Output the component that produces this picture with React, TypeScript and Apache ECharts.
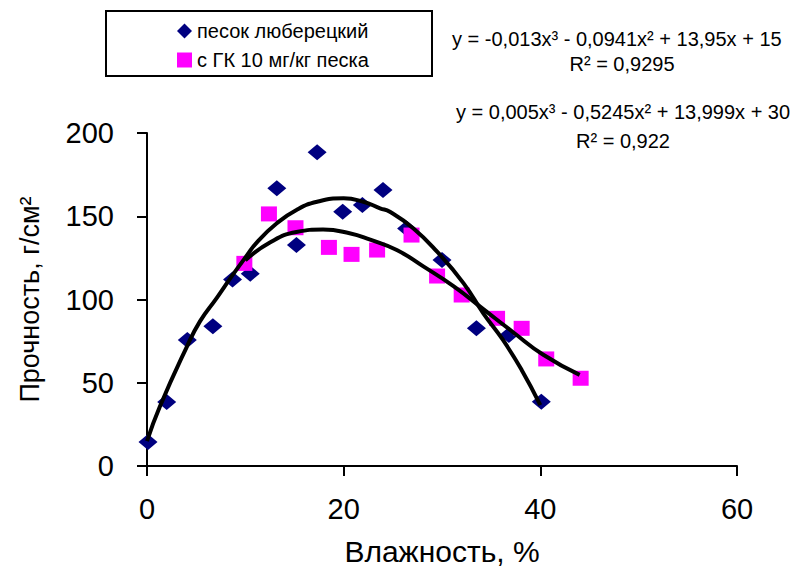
import React, { useEffect, useRef } from "react";
import * as echarts from "echarts";

const seriesNames = ["песок люберецкий", "с ГК 10 мг/кг песка"];

// measured points: [moisture %, strength]
const sandPoints: number[][] = [
  [0.1, 14.4], [2.0, 38.4], [4.1, 75.7], [6.7, 84], [8.7, 112], [10.5, 115.5],
  [13.2, 166.8], [15.2, 132.7], [17.3, 188.4], [19.9, 152.7], [21.9, 156.8],
  [24.0, 165.8], [26.4, 142.7], [30.0, 123.7], [33.5, 82.7], [36.8, 78.7], [40.1, 38.6],
];
const gkPoints: number[][] = [
  [9.9, 121.7], [12.4, 151.4], [15.1, 143.1], [18.5, 131.3], [20.8, 127.1],
  [23.4, 129.7], [26.9, 138.7], [29.5, 114.1], [32.0, 102.7], [35.6, 88.7],
  [38.1, 82.7], [40.6, 64.3], [44.1, 52.7],
];

// trendlines
const sandTrendX = [0, 1.3, 4.0, 5.4, 7.1, 8.5, 10.1, 11.2, 13.2, 15.2, 17.3, 20.0, 22.0, 23.7, 24.7, 27.1, 29.5, 32.2, 34.2, 36.2, 38.1, 40.0];
const sandTrendY = [15, 35.6, 71, 87, 101, 113, 126, 134.5, 145.8, 153.8, 158.7, 160.8, 158.7, 154.8, 152.7, 142.7, 128.7, 109.7, 91.7, 75.7, 57.7, 36.6];
const gkTrendX = [10.0, 12.5, 15.2, 17.9, 20.6, 22.7, 25.4, 28.1, 31.2, 34.2, 37.2, 40.3, 44.0];
const gkTrendY = [123.5, 134.2, 140.5, 142.0, 139.8, 135.9, 129.7, 119.9, 107.9, 94.2, 80.5, 66.8, 54.7];

const xTicks = { min: 0, max: 60, interval: 20 };
const yTicks = { min: 0, max: 200, interval: 50 };

const eq1 = "y = -0,013x³ - 0,0941x² + 13,95x + 15";
const r1 = "R² = 0,9295";
const eq2 = "y = 0,005x³ - 0,5245x² + 13,999x + 30";
const r2 = "R² = 0,922";

const FONT = "'Liberation Sans', Arial, sans-serif";

export default function App() {
  const ref = useRef<HTMLDivElement>(null);
  useEffect(() => {
    if (!ref.current) return;
    const chart = echarts.init(ref.current, null, { renderer: "svg" });
    const zip = (xs: number[], ys: number[]) => xs.map((x, i) => [x, ys[i]]);
    const axisCommon = {
      axisLine: { show: true, lineStyle: { color: "#000", width: 2 } },
      axisTick: { show: true, inside: false, length: 10, lineStyle: { color: "#000", width: 2 } },
      splitLine: { show: false },
    };
    const eqStyle = { fontSize: 20, fontFamily: FONT, fill: "#000" };
    chart.setOption({
      animation: false,
      backgroundColor: "#fff",
      textStyle: { fontFamily: FONT },
      grid: { left: 147, right: 61, top: 133, bottom: 100, containLabel: false, outerBoundsMode: "none" },
      legend: {
        show: true,
        orient: "vertical",
        left: 172,
        top: 16,
        itemWidth: 15,
        itemHeight: 15,
        itemGap: 9,
        data: [
          { name: seriesNames[0], icon: "diamond" },
          { name: seriesNames[1], icon: "rect" },
        ],
        textStyle: { fontSize: 20, color: "#000", fontFamily: FONT },
      },
      xAxis: {
        type: "value",
        ...xTicks,
        ...axisCommon,
        axisLabel: { fontSize: 29, color: "#000", margin: 28, fontFamily: FONT },
        name: "Влажность, %",
        nameLocation: "middle",
        nameGap: 70,
        nameTextStyle: { fontSize: 30, color: "#000", fontFamily: FONT },
      },
      yAxis: {
        type: "value",
        ...yTicks,
        ...axisCommon,
        axisLabel: { fontSize: 29, color: "#000", margin: 33, fontFamily: FONT },
        name: "Прочность, г/см²",
        nameLocation: "middle",
        nameRotate: 90,
        nameGap: 104,
        nameTextStyle: { fontSize: 27, color: "#000", fontFamily: FONT },
      },
      graphic: [
        {
          type: "rect",
          shape: { x: 106, y: 11, width: 326, height: 65 },
          style: { fill: "none", stroke: "#000", lineWidth: 2 },
          z: 0,
        },
        { type: "text", x: 452, y: 29, style: { ...eqStyle, text: eq1 } },
        { type: "text", x: 622, y: 54, style: { ...eqStyle, text: r1, align: "center" } },
        { type: "text", x: 456, y: 102, style: { ...eqStyle, text: eq2 } },
        { type: "text", x: 623, y: 131, style: { ...eqStyle, text: r2, align: "center" } },
      ],
      series: [
        {
          name: seriesNames[0],
          type: "scatter",
          symbol: "diamond",
          symbolSize: [19, 16],
          itemStyle: { color: "#000080", opacity: 1 },
          data: sandPoints,
          z: 2,
        },
        {
          name: seriesNames[1],
          type: "scatter",
          symbol: "rect",
          symbolSize: [16, 15],
          itemStyle: { color: "#FF00FF", opacity: 1 },
          data: gkPoints,
          z: 3,
        },
        {
          name: "trend1",
          type: "line",
          smooth: true,
          showSymbol: false,
          symbol: "none",
          lineStyle: { color: "#000", width: 4 },
          data: zip(sandTrendX, sandTrendY),
          z: 4,
        },
        {
          name: "trend2",
          type: "line",
          smooth: true,
          showSymbol: false,
          symbol: "none",
          lineStyle: { color: "#000", width: 4 },
          data: zip(gkTrendX, gkTrendY),
          z: 4,
        },
      ],
    });
    return () => chart.dispose();
  }, []);
  return (
    <div
      ref={ref}
      style={{ position: "fixed", left: 0, top: 0, width: 798, height: 566 }}
    />
  );
}
